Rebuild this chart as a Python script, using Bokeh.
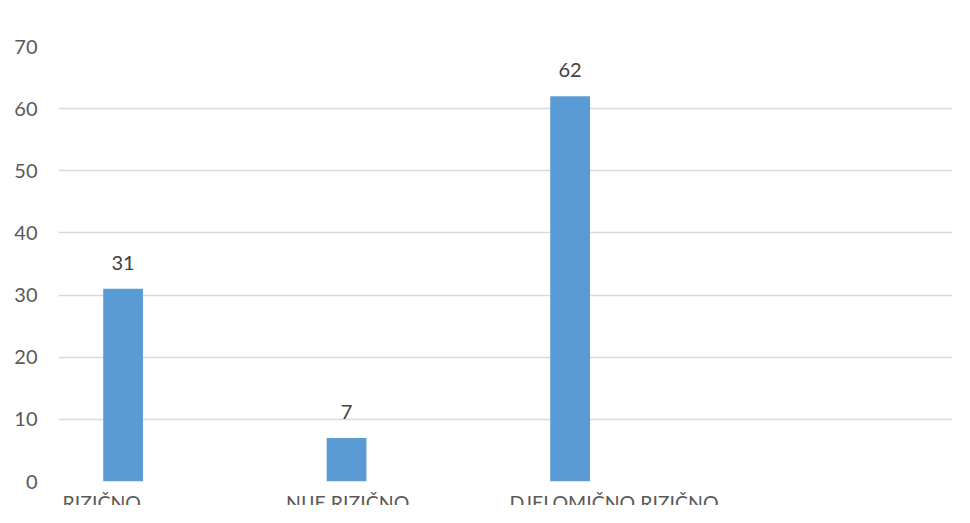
from bokeh.plotting import figure
from bokeh.models import FixedTicker, ColumnDataSource, Range1d
from bokeh.embed import file_html
from bokeh.resources import INLINE
from bokeh.core.properties import value

categories = ["RIZIČNO", "NIJE RIZIČNO", "DJELOMIČNO RIZIČNO", ""]
values = [31, 7, 62]
y_ticks = [0, 10, 20, 30, 40, 50, 60, 70]

n_slots = len(categories)
bar_offset = 0.289
bar_width = 0.178
label_offset = 0.018

idx = list(range(len(values)))
src = ColumnDataSource(dict(
    x=[i + bar_offset for i in idx],
    top=values,
    lbl=[str(v) for v in values],
))
cat_src = ColumnDataSource(dict(
    x=[i + label_offset for i in range(len(categories) - 1)],
    y=[0] * (len(categories) - 1),
    name=categories[:-1],
))

p = figure(width=954, height=505, output_backend="svg", toolbar_location=None,
           x_range=Range1d(0, n_slots), y_range=Range1d(0, 70),
           min_border_left=58, min_border_right=2, min_border_top=46, min_border_bottom=24)
p.outline_line_color = None
p.background_fill_color = "white"
p.border_fill_color = "white"

p.vbar(x="x", top="top", width=bar_width, bottom=0, source=src,
       fill_color="#5B9BD5", line_color=None)
p.text(x="x", y="top", text="lbl", source=src, text_align="center",
       text_baseline="bottom", y_offset=-19, text_font=value("Lato"),
       text_font_size="20px", text_color="#404040")

# y axis
p.yaxis.ticker = FixedTicker(ticks=y_ticks)
p.yaxis.axis_line_color = None
p.yaxis.major_tick_line_color = None
p.yaxis.minor_tick_line_color = None
p.yaxis.major_label_standoff = 15
p.yaxis.major_label_text_font = "Lato"
p.yaxis.major_label_text_font_size = "20px"
p.yaxis.major_label_text_color = "#595959"

# x axis: category names left-aligned at each slot start, under the frame
p.xaxis.visible = False
p.text(x="x", y="y", text="name", source=cat_src, level="annotation",
       text_align="left", text_baseline="alphabetic", y_offset=21,
       text_font=value("Lato"), text_font_size="19.5px", text_color="#595959")

p.xgrid.grid_line_color = None
p.ygrid.grid_line_color = "#d9d9d9"
p.ygrid.grid_line_width = 1.5

open("out.html", "w").write(file_html(p, INLINE))
